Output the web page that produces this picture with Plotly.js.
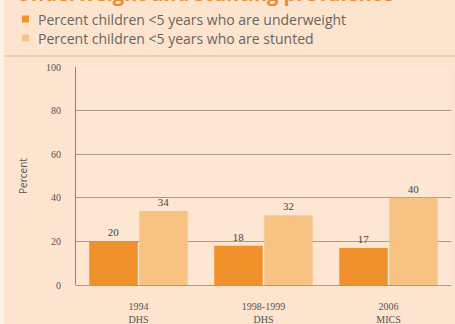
<!DOCTYPE html>
<html>
<head>
<meta charset="utf-8">
<script src="https://cdn.plot.ly/plotly-3.0.1.min.js"></script>
<style>html,body{margin:0;padding:0;background:#fce4cf;}#chart{width:455px;height:324px;}</style>
</head>
<body>
<div id="chart"></div>
<script>
const categories = ["1994<br>DHS", "1998-1999<br>DHS", "2006<br>MICS"];
const underweight = [20, 18, 17];
const stunted = [34, 32, 40];
const seriesNames = ["Percent children <5 years who are underweight", "Percent children <5 years who are stunted"];
const seriesColors = ["#f0912c", "#f8c283"];
const yTicks = [0, 20, 40, 60, 80, 100];
const chartTitle = "Underweight and stunting prevalence";

const W = 455, H = 324;
const M = {l: 76, r: 4, t: 67, b: 39};
const pw = W - M.l - M.r, ph = H - M.t - M.b;
const px2x = p => (p - M.l) / pw;
const px2y = p => (H - M.b - p) / ph;

const traces = [underweight, stunted].map((vals, i) => ({
  type: "bar", x: categories, y: vals, name: seriesNames[i],
  marker: {color: seriesColors[i]}, text: vals.map(String), textposition: "outside",
  textfont: {size: 11, color: "#4a4440", family: "'Liberation Serif', serif"}, cliponaxis: false
}));

const legendRows = [19, 38];
const annotations = seriesNames.map((n, i) => ({
  xref: "paper", yref: "paper", x: px2x(36), y: px2y(legendRows[i]), xanchor: "left", yanchor: "middle",
  text: n.replace("<", "&lt;"), showarrow: false, font: {size: 14, color: "#6a6460", family: "'Open Sans', sans-serif"}
}));
annotations.push({
  xref: "paper", yref: "paper", x: px2x(14), y: px2y(9), xanchor: "left", yanchor: "bottom",
  text: "<b>" + chartTitle + "</b>", showarrow: false,
  font: {size: 20, color: "#ea8a34", family: "'Open Sans', sans-serif"}
});
const shapes = seriesNames.map((n, i) => ({
  type: "rect", xref: "paper", yref: "paper", x0: px2x(22), x1: px2x(29),
  y0: px2y(legendRows[i] + 3.5), y1: px2y(legendRows[i] - 3.5), fillcolor: seriesColors[i], line: {width: 0}
}));
shapes.push({type: "line", xref: "paper", yref: "paper", x0: px2x(0), x1: px2x(455), y0: px2y(56), y1: px2y(56),
  line: {color: "#edc2a0", width: 1.5}});
shapes.push({type: "rect", xref: "paper", yref: "paper", x0: px2x(0), x1: px2x(4), y0: px2y(324), y1: px2y(0),
  fillcolor: "#fdf3ea", line: {width: 0}});

const layout = {
  width: W, height: H, margin: M,
  paper_bgcolor: "#fce4cf", plot_bgcolor: "#fde6d2",
  font: {family: "'Liberation Serif', serif", color: "#555", size: 9},
  barmode: "group", bargap: 0.2, bargroupgap: 0.03,
  showlegend: false,
  xaxis: {type: "category", showgrid: false, zeroline: false, showline: false,
          ticks: "", ticklabelstandoff: 14, tickfont: {size: 10, color: "#555"}},
  yaxis: {range: [0, 100], tickvals: yTicks, ticktext: yTicks.map(String), showgrid: true,
          gridcolor: "#a69a8f", gridwidth: 1, zeroline: true, zerolinecolor: "#a69a8f",
          showline: true, linecolor: "#8f8276", linewidth: 1, ticks: "", ticklabelstandoff: 12,
          tickfont: {size: 10, color: "#555"},
          title: {text: "Percent", font: {size: 10, color: "#555", family: "'Open Sans', sans-serif"}, standoff: 16}},
  annotations: annotations,
  shapes: shapes
};

Plotly.newPlot("chart", traces, layout, {displayModeBar: false, staticPlot: true});
</script>
</body>
</html>
